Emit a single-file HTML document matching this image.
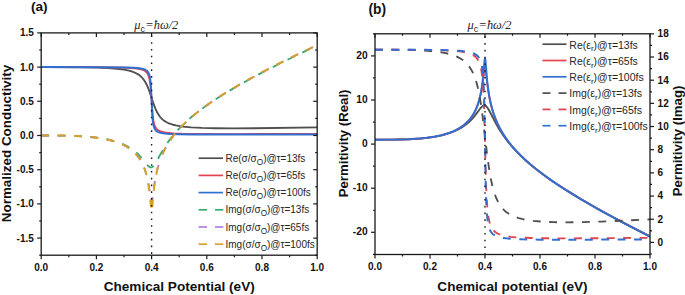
<!DOCTYPE html>
<html><head><meta charset="utf-8"><style>
html,body{margin:0;padding:0;background:#fff;width:685px;height:295px;overflow:hidden}
svg{display:block;font-family:"Liberation Sans",sans-serif}
</style></head><body>
<svg width="685" height="295" viewBox="0 0 685 295">
<clipPath id="ca"><rect x="41.2" y="32.9" width="276.0" height="222.29999999999998"/></clipPath>
<clipPath id="cb"><rect x="375.0" y="33.8" width="275.0" height="220.7"/></clipPath>
<g clip-path="url(#ca)" fill="none" stroke-width="2.0" stroke-linejoin="round">
<path d="M41.20,67.10 L83.60,67.28 L97.25,67.58 L108.14,68.05 L117.07,68.74 L124.16,69.68 L129.93,70.92 L132.43,71.69 L134.66,72.55 L138.07,74.34 L139.52,75.34 L140.96,76.55 L142.27,77.87 L143.45,79.28 L145.55,82.47 L147.18,85.68 L148.78,89.57 L153.50,103.60 L155.37,108.56 L157.52,113.04 L159.79,116.51 L161.26,118.22 L162.73,119.61 L164.33,120.86 L166.20,122.03 L168.20,123.03 L170.47,123.93 L173.01,124.73 L175.81,125.42 L182.62,126.56 L191.17,127.38 L201.98,127.94 L215.73,128.26 L233.09,128.36 L254.98,128.25 L317.20,127.33" stroke="#4f4f4f" stroke-width="1.85"/>
<path d="M41.20,67.10 L96.46,67.19 L111.95,67.35 L123.11,67.60 L131.25,67.99 L137.02,68.55 L141.22,69.37 L142.80,69.88 L144.24,70.53 L145.29,71.19 L146.21,71.96 L147.00,72.85 L147.69,73.90 L148.81,76.52 L149.67,80.08 L150.26,83.96 L150.78,89.03 L152.14,108.58 L152.70,115.11 L153.40,120.43 L154.27,124.29 L154.82,125.89 L155.48,127.26 L156.23,128.41 L157.12,129.39 L158.19,130.23 L159.39,130.91 L160.86,131.51 L162.59,132.01 L167.13,132.79 L173.41,133.32 L182.22,133.68 L194.50,133.91 L236.16,134.07 L317.20,133.86" stroke="#e2434f" stroke-width="1.85"/>
<path d="M41.20,67.10 L99.35,67.17 L126.13,67.50 L133.87,67.82 L139.25,68.29 L143.06,68.98 L144.50,69.44 L145.69,69.99 L146.60,70.58 L147.39,71.29 L148.05,72.12 L148.62,73.10 L149.52,75.64 L150.20,79.17 L150.64,83.15 L151.02,88.49 L152.38,116.28 L152.89,121.70 L153.55,125.57 L154.51,128.45 L155.12,129.55 L155.84,130.45 L156.73,131.22 L157.79,131.86 L160.46,132.80 L164.46,133.48 L170.07,133.93 L178.21,134.23 L190.10,134.43 L231.75,134.57 L317.20,134.43" stroke="#3170d0" stroke-width="2.0"/>
<path d="M41.20,135.50 L56.82,135.54 L67.98,135.71 L77.82,136.05 L86.49,136.59 L94.49,137.35 L101.84,138.37 L108.41,139.62 L114.45,141.15 L119.70,142.89 L124.42,144.87 L128.75,147.16 L132.69,149.74 L136.10,152.47 L139.25,155.50 L141.75,158.29 L146.32,163.95 L147.93,165.75 L149.32,166.89 L150.55,167.39 L151.42,167.37 L152.30,167.01 L153.19,166.31 L154.14,165.22 L156.19,162.07 L159.92,155.24" stroke="#3aa870" stroke-width="1.85" stroke-dasharray="7.9 8.5"/>
<path d="M159.92,155.24 L164.20,147.83 L168.47,141.39 L173.27,135.12 L178.62,129.07 L184.62,123.09 L191.43,117.06 L199.04,110.98 L207.45,104.86 L216.93,98.50 L227.48,91.92 L239.23,85.04 L252.05,77.93 L266.20,70.45 L281.69,62.60 L298.64,54.31 L317.20,45.50" stroke="#3aa870" stroke-width="1.85" stroke-dasharray="7.9 8.5" stroke-dashoffset="2.03"/>
<path d="M41.20,135.50 L60.76,135.58 L74.54,135.92 L86.49,136.62 L96.72,137.69 L101.58,138.42 L106.04,139.25 L110.24,140.21 L114.05,141.27 L117.73,142.49 L121.14,143.85 L124.29,145.33 L127.18,146.94 L129.80,148.66 L132.30,150.59 L134.53,152.60 L136.63,154.84 L138.60,157.31 L140.30,159.83 L141.88,162.59 L143.32,165.59 L144.50,168.49 L145.55,171.51 L146.57,174.96 L147.48,178.69 L149.01,186.74 L150.93,200.15 L151.26,201.67 L151.56,202.19 L151.88,201.67 L152.24,199.92 L154.22,185.03 L155.79,175.89 L157.65,167.90 L159.92,160.56" stroke="#b07ee6" stroke-width="1.85" stroke-dasharray="7.9 8.5"/>
<path d="M159.92,160.56 L161.26,156.99 L162.86,153.23 L164.46,149.89 L166.33,146.40 L168.33,143.05 L170.47,139.80 L172.87,136.47 L175.41,133.25 L181.02,126.94 L187.56,120.56 L195.04,114.13 L203.45,107.65 L212.93,101.00 L223.61,94.10 L235.49,86.96 L248.84,79.41 L263.53,71.54 L279.68,63.27 L297.57,54.45 L317.20,45.10" stroke="#b07ee6" stroke-width="1.85" stroke-dasharray="7.9 8.5" stroke-dashoffset="9.72"/>
<path d="M41.20,135.50 L61.41,135.59 L75.72,135.97 L88.06,136.75 L98.56,137.95 L103.42,138.74 L108.01,139.68 L112.21,140.74 L116.15,141.95 L119.83,143.31 L123.24,144.82 L126.39,146.49 L129.28,148.32 L131.90,150.29 L134.27,152.39 L136.50,154.74 L138.47,157.20 L140.30,159.93 L142.01,162.97 L143.45,166.06 L144.77,169.45 L145.82,172.70 L146.85,176.57 L147.72,180.54 L148.50,184.87 L149.76,194.38 L151.19,209.68 L151.40,211.09 L151.58,211.56 L151.80,210.97 L152.05,209.07 L153.77,190.21 L155.12,180.31 L156.12,174.88 L157.25,169.80 L158.46,165.33 L159.92,160.73" stroke="#d4a228" stroke-width="2.0" stroke-dasharray="7.9 8.5"/>
<path d="M159.92,160.73 L161.26,157.12 L162.86,153.32 L164.46,149.96 L166.33,146.46 L168.33,143.08 L170.47,139.83 L172.74,136.67 L175.28,133.43 L177.95,130.29 L180.89,127.09 L187.43,120.69 L194.90,114.24 L203.31,107.74 L212.79,101.09 L223.48,94.18 L235.36,87.03 L248.71,79.48 L263.39,71.60 L279.68,63.26 L297.57,54.44 L317.20,45.09" stroke="#d4a228" stroke-width="2.0" stroke-dasharray="7.9 8.5" stroke-dashoffset="9.72"/>
</g>
<line x1="151.60" y1="35.40" x2="151.60" y2="255.2" stroke="#1a1a1a" stroke-width="1.4" stroke-dasharray="1.6 5.18"/>
<rect x="41.2" y="32.9" width="276.00" height="222.30" fill="none" stroke="#1a1a1a" stroke-width="1.3"/>
<line x1="39.2" y1="255.2" x2="41.2" y2="255.2" stroke="#1a1a1a" stroke-width="1.2" />
<line x1="315.2" y1="255.2" x2="317.2" y2="255.2" stroke="#1a1a1a" stroke-width="1.2" />
<line x1="37.2" y1="238.1" x2="41.2" y2="238.1" stroke="#1a1a1a" stroke-width="1.2" />
<line x1="313.2" y1="238.1" x2="317.2" y2="238.1" stroke="#1a1a1a" stroke-width="1.2" />
<text x="33.8" y="241.5" font-size="10" font-weight="bold" text-anchor="end" fill="#111" >-1.5</text>
<line x1="39.2" y1="221" x2="41.2" y2="221" stroke="#1a1a1a" stroke-width="1.2" />
<line x1="315.2" y1="221" x2="317.2" y2="221" stroke="#1a1a1a" stroke-width="1.2" />
<line x1="37.2" y1="203.9" x2="41.2" y2="203.9" stroke="#1a1a1a" stroke-width="1.2" />
<line x1="313.2" y1="203.9" x2="317.2" y2="203.9" stroke="#1a1a1a" stroke-width="1.2" />
<text x="33.8" y="207.3" font-size="10" font-weight="bold" text-anchor="end" fill="#111" >-1.0</text>
<line x1="39.2" y1="186.8" x2="41.2" y2="186.8" stroke="#1a1a1a" stroke-width="1.2" />
<line x1="315.2" y1="186.8" x2="317.2" y2="186.8" stroke="#1a1a1a" stroke-width="1.2" />
<line x1="37.2" y1="169.7" x2="41.2" y2="169.7" stroke="#1a1a1a" stroke-width="1.2" />
<line x1="313.2" y1="169.7" x2="317.2" y2="169.7" stroke="#1a1a1a" stroke-width="1.2" />
<text x="33.8" y="173.1" font-size="10" font-weight="bold" text-anchor="end" fill="#111" >-0.5</text>
<line x1="39.2" y1="152.6" x2="41.2" y2="152.6" stroke="#1a1a1a" stroke-width="1.2" />
<line x1="315.2" y1="152.6" x2="317.2" y2="152.6" stroke="#1a1a1a" stroke-width="1.2" />
<line x1="37.2" y1="135.5" x2="41.2" y2="135.5" stroke="#1a1a1a" stroke-width="1.2" />
<line x1="313.2" y1="135.5" x2="317.2" y2="135.5" stroke="#1a1a1a" stroke-width="1.2" />
<text x="33.8" y="138.9" font-size="10" font-weight="bold" text-anchor="end" fill="#111" >0.0</text>
<line x1="39.2" y1="118.4" x2="41.2" y2="118.4" stroke="#1a1a1a" stroke-width="1.2" />
<line x1="315.2" y1="118.4" x2="317.2" y2="118.4" stroke="#1a1a1a" stroke-width="1.2" />
<line x1="37.2" y1="101.3" x2="41.2" y2="101.3" stroke="#1a1a1a" stroke-width="1.2" />
<line x1="313.2" y1="101.3" x2="317.2" y2="101.3" stroke="#1a1a1a" stroke-width="1.2" />
<text x="33.8" y="104.7" font-size="10" font-weight="bold" text-anchor="end" fill="#111" >0.5</text>
<line x1="39.2" y1="84.2" x2="41.2" y2="84.2" stroke="#1a1a1a" stroke-width="1.2" />
<line x1="315.2" y1="84.2" x2="317.2" y2="84.2" stroke="#1a1a1a" stroke-width="1.2" />
<line x1="37.2" y1="67.1" x2="41.2" y2="67.1" stroke="#1a1a1a" stroke-width="1.2" />
<line x1="313.2" y1="67.1" x2="317.2" y2="67.1" stroke="#1a1a1a" stroke-width="1.2" />
<text x="33.8" y="70.5" font-size="10" font-weight="bold" text-anchor="end" fill="#111" >1.0</text>
<line x1="39.2" y1="50" x2="41.2" y2="50" stroke="#1a1a1a" stroke-width="1.2" />
<line x1="315.2" y1="50" x2="317.2" y2="50" stroke="#1a1a1a" stroke-width="1.2" />
<line x1="37.2" y1="32.9" x2="41.2" y2="32.9" stroke="#1a1a1a" stroke-width="1.2" />
<line x1="313.2" y1="32.9" x2="317.2" y2="32.9" stroke="#1a1a1a" stroke-width="1.2" />
<text x="33.8" y="36.3" font-size="10" font-weight="bold" text-anchor="end" fill="#111" >1.5</text>
<line x1="41.2" y1="255.2" x2="41.2" y2="259.2" stroke="#1a1a1a" stroke-width="1.2" />
<line x1="41.2" y1="32.9" x2="41.2" y2="36.9" stroke="#1a1a1a" stroke-width="1.2" />
<text x="41.2" y="270.6" font-size="10" font-weight="bold" text-anchor="middle" fill="#111" >0.0</text>
<line x1="68.8" y1="255.2" x2="68.8" y2="257.2" stroke="#1a1a1a" stroke-width="1.2" />
<line x1="68.8" y1="32.9" x2="68.8" y2="34.9" stroke="#1a1a1a" stroke-width="1.2" />
<line x1="96.4" y1="255.2" x2="96.4" y2="259.2" stroke="#1a1a1a" stroke-width="1.2" />
<line x1="96.4" y1="32.9" x2="96.4" y2="36.9" stroke="#1a1a1a" stroke-width="1.2" />
<text x="96.4" y="270.6" font-size="10" font-weight="bold" text-anchor="middle" fill="#111" >0.2</text>
<line x1="124" y1="255.2" x2="124" y2="257.2" stroke="#1a1a1a" stroke-width="1.2" />
<line x1="124" y1="32.9" x2="124" y2="34.9" stroke="#1a1a1a" stroke-width="1.2" />
<line x1="151.6" y1="255.2" x2="151.6" y2="259.2" stroke="#1a1a1a" stroke-width="1.2" />
<line x1="151.6" y1="32.9" x2="151.6" y2="36.9" stroke="#1a1a1a" stroke-width="1.2" />
<text x="151.6" y="270.6" font-size="10" font-weight="bold" text-anchor="middle" fill="#111" >0.4</text>
<line x1="179.2" y1="255.2" x2="179.2" y2="257.2" stroke="#1a1a1a" stroke-width="1.2" />
<line x1="179.2" y1="32.9" x2="179.2" y2="34.9" stroke="#1a1a1a" stroke-width="1.2" />
<line x1="206.8" y1="255.2" x2="206.8" y2="259.2" stroke="#1a1a1a" stroke-width="1.2" />
<line x1="206.8" y1="32.9" x2="206.8" y2="36.9" stroke="#1a1a1a" stroke-width="1.2" />
<text x="206.8" y="270.6" font-size="10" font-weight="bold" text-anchor="middle" fill="#111" >0.6</text>
<line x1="234.4" y1="255.2" x2="234.4" y2="257.2" stroke="#1a1a1a" stroke-width="1.2" />
<line x1="234.4" y1="32.9" x2="234.4" y2="34.9" stroke="#1a1a1a" stroke-width="1.2" />
<line x1="262" y1="255.2" x2="262" y2="259.2" stroke="#1a1a1a" stroke-width="1.2" />
<line x1="262" y1="32.9" x2="262" y2="36.9" stroke="#1a1a1a" stroke-width="1.2" />
<text x="262" y="270.6" font-size="10" font-weight="bold" text-anchor="middle" fill="#111" >0.8</text>
<line x1="289.6" y1="255.2" x2="289.6" y2="257.2" stroke="#1a1a1a" stroke-width="1.2" />
<line x1="289.6" y1="32.9" x2="289.6" y2="34.9" stroke="#1a1a1a" stroke-width="1.2" />
<line x1="317.2" y1="255.2" x2="317.2" y2="259.2" stroke="#1a1a1a" stroke-width="1.2" />
<line x1="317.2" y1="32.9" x2="317.2" y2="36.9" stroke="#1a1a1a" stroke-width="1.2" />
<text x="317.2" y="270.6" font-size="10" font-weight="bold" text-anchor="middle" fill="#111" >1.0</text>
<text x="179.2" y="291.3" font-size="13.6" font-weight="bold" text-anchor="middle" fill="#111" >Chemical Potential (eV)</text>
<text transform="translate(10.6,143.5) rotate(-90)" font-size="13.45" font-weight="bold" text-anchor="middle" fill="#111">Normalized Conductivity</text>
<text x="31" y="11" font-size="13.6" font-weight="bold" text-anchor="start" fill="#111" >(a)</text>
<text x="134.3" y="28.9" font-family="Liberation Serif" font-size="12.4" font-style="italic" fill="#262626">&#956;<tspan font-family="Liberation Sans" font-style="normal" font-size="8.8" dy="2.6">c</tspan><tspan dy="-2.6" dx="0.4">=&#295;&#969;/2</tspan></text>
<line x1="198.6" y1="158.2" x2="223" y2="158.2" stroke="#4f4f4f" stroke-width="1.7" />
<text x="225.5" y="161.80" font-size="10" fill="#262626">Re(&#963;/&#963;<tspan font-size="8.2" dy="3">O</tspan><tspan dy="-3">)@&#964;=13fs</tspan></text>
<line x1="198.6" y1="175.4" x2="223" y2="175.4" stroke="#e2434f" stroke-width="1.7" />
<text x="225.5" y="179.00" font-size="10" fill="#262626">Re(&#963;/&#963;<tspan font-size="8.2" dy="3">O</tspan><tspan dy="-3">)@&#964;=65fs</tspan></text>
<line x1="198.6" y1="192.6" x2="223" y2="192.6" stroke="#3170d0" stroke-width="1.7" />
<text x="225.5" y="196.20" font-size="10" fill="#262626">Re(&#963;/&#963;<tspan font-size="8.2" dy="3">O</tspan><tspan dy="-3">)@&#964;=100fs</tspan></text>
<line x1="198.6" y1="209.8" x2="207" y2="209.8" stroke="#3aa870" stroke-width="1.7" />
<line x1="215" y1="209.8" x2="223.3" y2="209.8" stroke="#3aa870" stroke-width="1.7" />
<text x="225.5" y="213.40" font-size="10" fill="#262626">Img(&#963;/&#963;<tspan font-size="8.2" dy="3">O</tspan><tspan dy="-3">)@&#964;=13fs</tspan></text>
<line x1="198.6" y1="227" x2="207" y2="227" stroke="#b07ee6" stroke-width="1.7" />
<line x1="215" y1="227" x2="223.3" y2="227" stroke="#b07ee6" stroke-width="1.7" />
<text x="225.5" y="230.60" font-size="10" fill="#262626">Img(&#963;/&#963;<tspan font-size="8.2" dy="3">O</tspan><tspan dy="-3">)@&#964;=65fs</tspan></text>
<line x1="198.6" y1="244.2" x2="207" y2="244.2" stroke="#d4a228" stroke-width="1.7" />
<line x1="215" y1="244.2" x2="223.3" y2="244.2" stroke="#d4a228" stroke-width="1.7" />
<text x="225.5" y="247.80" font-size="10" fill="#262626">Img(&#963;/&#963;<tspan font-size="8.2" dy="3">O</tspan><tspan dy="-3">)@&#964;=100fs</tspan></text>
<g clip-path="url(#cb)" fill="none" stroke-width="2.0" stroke-linejoin="round">
<path d="M375.00,139.69 L390.43,139.65 L401.55,139.47 L411.23,139.11 L419.86,138.55 L427.84,137.74 L435.16,136.66 L441.70,135.34 L447.72,133.71 L452.69,131.98 L457.27,129.97 L461.45,127.68 L465.37,125.03 L469.04,121.98 L472.44,118.53 L474.92,115.59 L479.90,108.97 L481.68,106.91 L482.61,106.11 L483.47,105.64 L484.28,105.46 L485.07,105.59 L485.80,105.97 L486.54,106.61 L488.16,108.76 L490.00,112.02 L495.56,122.87 L498.88,128.74 L503.27,135.54 L508.19,142.13 L513.78,148.66 L520.17,155.23 L527.35,161.82 L535.33,168.44 L544.91,175.68 L555.68,183.17 L567.66,190.91 L580.96,199.00 L595.72,207.50 L612.09,216.49 L630.18,226.06 L650.00,236.18" stroke="#4f4f4f" stroke-width="1.85"/>
<path d="M375.00,139.69 L394.49,139.60 L408.22,139.24 L420.12,138.49 L430.32,137.34 L435.16,136.56 L439.61,135.67 L443.79,134.64 L447.59,133.50 L451.25,132.19 L454.65,130.74 L457.79,129.15 L460.67,127.42 L463.28,125.57 L465.77,123.51 L467.99,121.35 L470.08,118.96 L472.05,116.31 L473.75,113.60 L475.31,110.65 L476.75,107.43 L477.93,104.32 L478.98,101.08 L480.86,93.54 L482.41,84.82 L484.35,70.31 L484.69,68.65 L484.85,68.27 L485.01,68.19 L485.30,68.80 L485.62,70.51 L487.82,88.08 L488.73,93.90 L489.74,99.27 L490.90,104.41 L492.23,109.38 L493.69,114.02 L495.42,118.73 L497.42,123.40 L499.68,128.00 L502.21,132.50 L504.87,136.71 L507.93,141.04 L511.25,145.29 L514.84,149.46 L518.83,153.71 L523.36,158.14 L528.15,162.48 L533.47,166.99 L539.19,171.53 L545.44,176.20 L552.09,180.91 L559.28,185.76 L566.86,190.65 L575.11,195.76 L583.89,201.00 L603.17,211.98 L625.12,223.80 L650.00,236.61" stroke="#e2434f" stroke-width="1.85"/>
<path d="M375.00,139.69 L395.14,139.59 L409.40,139.18 L421.69,138.35 L427.05,137.78 L432.15,137.07 L436.99,136.21 L441.57,135.21 L445.76,134.07 L449.68,132.78 L453.34,131.32 L456.74,129.69 L459.88,127.90 L462.76,125.95 L465.37,123.83 L467.73,121.58 L469.95,119.07 L471.91,116.43 L473.75,113.50 L475.45,110.24 L476.88,106.92 L478.19,103.29 L479.24,99.80 L480.26,95.71 L481.13,91.46 L481.90,86.82 L483.16,76.61 L484.60,60.10 L484.81,58.59 L485.00,58.14 L485.21,58.84 L485.45,60.87 L487.18,81.19 L488.61,92.28 L489.61,98.08 L490.77,103.49 L492.10,108.67 L493.69,113.86 L495.56,118.95 L497.68,123.90 L499.94,128.45 L502.61,133.13 L505.53,137.66 L508.72,142.08 L512.18,146.39 L516.04,150.76 L520.43,155.31 L525.35,159.99 L530.54,164.55 L536.26,169.24 L542.51,174.05 L549.17,178.87 L556.35,183.81 L564.20,188.96 L572.58,194.22 L581.49,199.60 L601.44,211.03 L624.19,223.32 L650.00,236.62" stroke="#3170d0" stroke-width="2.0"/>
<path d="M375.00,49.72 L400.11,49.82 L416.98,50.22 L424.18,50.58 L430.59,51.04 L436.21,51.62 L441.31,52.33 L446.02,53.21 L450.20,54.24 L454.00,55.46 L457.40,56.87 L460.40,58.45 L463.15,60.29 L465.64,62.39 L467.86,64.76 L469.69,67.16 L471.26,69.65 L472.70,72.39 L474.14,75.67 L475.45,79.26 L476.62,83.09 L477.80,87.63 L478.85,92.37 L480.51,101.51 L482.14,112.66 L486.92,152.77 L488.81,166.88 L490.90,179.14 L492.10,184.71 L493.29,189.39" stroke="#4f4f4f" stroke-width="1.85" stroke-dasharray="7.9 8.5"/>
<path d="M493.29,189.39 L494.36,192.92 L495.56,196.31 L496.75,199.20 L498.08,201.92 L499.55,204.45 L501.01,206.58 L502.61,208.54 L504.33,210.33 L506.20,211.95 L508.33,213.49 L510.59,214.84 L513.11,216.08 L515.78,217.16 L518.70,218.12 L521.89,218.97 L525.35,219.71 L533.20,220.89 L542.65,221.71 L553.82,222.17 L567.12,222.30 L582.82,222.09 L601.58,221.55 L623.79,220.65 L650.00,219.37" stroke="#4f4f4f" stroke-width="1.85" stroke-dasharray="7.9 8.5" stroke-dashoffset="10.77"/>
<path d="M375.00,49.72 L408.74,49.77 L430.06,49.98 L445.49,50.42 L456.61,51.13 L461.06,51.64 L464.72,52.24 L467.86,52.96 L470.48,53.82 L472.70,54.85 L474.66,56.12 L476.23,57.55 L477.67,59.39 L478.72,61.23 L479.64,63.43 L480.43,65.98 L481.11,68.92 L482.23,76.37 L483.09,86.46 L483.67,97.48 L484.19,111.87 L486.05,183.60 L486.67,197.85 L487.42,208.41 L488.37,216.36 L488.94,219.57 L489.59,222.33 L490.32,224.71 L491.17,226.76 L492.10,228.49 L493.29,230.16" stroke="#e2434f" stroke-width="1.85" stroke-dasharray="7.9 8.5"/>
<path d="M493.29,230.16 L495.02,231.87 L497.15,233.31 L499.68,234.48 L502.61,235.40 L506.20,236.17 L510.59,236.80 L515.91,237.31 L522.29,237.70 L539.19,238.20 L563.67,238.37 L599.18,238.23 L650.00,237.78" stroke="#e2434f" stroke-width="1.85" stroke-dasharray="7.9 8.5" stroke-dashoffset="15.99"/>
<path d="M375.00,49.72 L410.84,49.76 L432.94,49.93 L448.63,50.27 L459.62,50.85 L463.81,51.25 L467.34,51.74 L470.21,52.33 L472.70,53.07 L474.79,53.97 L476.49,55.03 L477.93,56.33 L479.11,57.86 L480.02,59.53 L480.80,61.52 L481.46,63.86 L482.03,66.63 L482.93,73.78 L483.60,83.73 L484.04,94.93 L484.42,109.97 L485.77,188.03 L486.27,203.17 L486.91,213.97 L487.81,222.01 L488.38,225.08 L489.06,227.65 L489.84,229.76 L490.77,231.54 L491.96,233.16 L493.29,234.41" stroke="#3170d0" stroke-width="2.0" stroke-dasharray="7.9 8.5"/>
<path d="M493.29,234.41 L495.02,235.53 L497.15,236.48 L499.68,237.24 L502.61,237.85 L506.20,238.35 L510.59,238.76 L522.16,239.34 L539.06,239.67 L563.53,239.78 L650.00,239.40" stroke="#3170d0" stroke-width="2.0" stroke-dasharray="7.9 8.5" stroke-dashoffset="6.06"/>
</g>
<line x1="485.00" y1="36.30" x2="485.00" y2="254.5" stroke="#1a1a1a" stroke-width="1.4" stroke-dasharray="1.6 5.18"/>
<rect x="375.0" y="33.8" width="275.00" height="220.70" fill="none" stroke="#1a1a1a" stroke-width="1.3"/>
<line x1="373" y1="254.35" x2="375" y2="254.35" stroke="#1a1a1a" stroke-width="1.2" />
<line x1="371" y1="232.3" x2="375" y2="232.3" stroke="#1a1a1a" stroke-width="1.2" />
<text x="367.6" y="235.4" font-size="10.2" font-weight="bold" text-anchor="end" fill="#111" >-20</text>
<line x1="373" y1="210.25" x2="375" y2="210.25" stroke="#1a1a1a" stroke-width="1.2" />
<line x1="371" y1="188.2" x2="375" y2="188.2" stroke="#1a1a1a" stroke-width="1.2" />
<text x="367.6" y="191.3" font-size="10.2" font-weight="bold" text-anchor="end" fill="#111" >-10</text>
<line x1="373" y1="166.15" x2="375" y2="166.15" stroke="#1a1a1a" stroke-width="1.2" />
<line x1="371" y1="144.1" x2="375" y2="144.1" stroke="#1a1a1a" stroke-width="1.2" />
<text x="367.6" y="147.2" font-size="10.2" font-weight="bold" text-anchor="end" fill="#111" >0</text>
<line x1="373" y1="122.05" x2="375" y2="122.05" stroke="#1a1a1a" stroke-width="1.2" />
<line x1="371" y1="100" x2="375" y2="100" stroke="#1a1a1a" stroke-width="1.2" />
<text x="367.6" y="103.1" font-size="10.2" font-weight="bold" text-anchor="end" fill="#111" >10</text>
<line x1="373" y1="77.95" x2="375" y2="77.95" stroke="#1a1a1a" stroke-width="1.2" />
<line x1="371" y1="55.9" x2="375" y2="55.9" stroke="#1a1a1a" stroke-width="1.2" />
<text x="367.6" y="59" font-size="10.2" font-weight="bold" text-anchor="end" fill="#111" >20</text>
<line x1="373" y1="33.85" x2="375" y2="33.85" stroke="#1a1a1a" stroke-width="1.2" />
<line x1="650" y1="253.99" x2="652" y2="253.99" stroke="#1a1a1a" stroke-width="1.2" />
<line x1="650" y1="242.4" x2="654" y2="242.4" stroke="#1a1a1a" stroke-width="1.2" />
<text x="657.6" y="245.7" font-size="10" font-weight="bold" text-anchor="start" fill="#111" >0</text>
<line x1="650" y1="230.81" x2="652" y2="230.81" stroke="#1a1a1a" stroke-width="1.2" />
<line x1="650" y1="219.23" x2="654" y2="219.23" stroke="#1a1a1a" stroke-width="1.2" />
<text x="657.6" y="222.53" font-size="10" font-weight="bold" text-anchor="start" fill="#111" >2</text>
<line x1="650" y1="207.64" x2="652" y2="207.64" stroke="#1a1a1a" stroke-width="1.2" />
<line x1="650" y1="196.06" x2="654" y2="196.06" stroke="#1a1a1a" stroke-width="1.2" />
<text x="657.6" y="199.36" font-size="10" font-weight="bold" text-anchor="start" fill="#111" >4</text>
<line x1="650" y1="184.47" x2="652" y2="184.47" stroke="#1a1a1a" stroke-width="1.2" />
<line x1="650" y1="172.88" x2="654" y2="172.88" stroke="#1a1a1a" stroke-width="1.2" />
<text x="657.6" y="176.18" font-size="10" font-weight="bold" text-anchor="start" fill="#111" >6</text>
<line x1="650" y1="161.3" x2="652" y2="161.3" stroke="#1a1a1a" stroke-width="1.2" />
<line x1="650" y1="149.71" x2="654" y2="149.71" stroke="#1a1a1a" stroke-width="1.2" />
<text x="657.6" y="153.01" font-size="10" font-weight="bold" text-anchor="start" fill="#111" >8</text>
<line x1="650" y1="138.13" x2="652" y2="138.13" stroke="#1a1a1a" stroke-width="1.2" />
<line x1="650" y1="126.54" x2="654" y2="126.54" stroke="#1a1a1a" stroke-width="1.2" />
<text x="657.6" y="129.84" font-size="10" font-weight="bold" text-anchor="start" fill="#111" >10</text>
<line x1="650" y1="114.95" x2="652" y2="114.95" stroke="#1a1a1a" stroke-width="1.2" />
<line x1="650" y1="103.37" x2="654" y2="103.37" stroke="#1a1a1a" stroke-width="1.2" />
<text x="657.6" y="106.67" font-size="10" font-weight="bold" text-anchor="start" fill="#111" >12</text>
<line x1="650" y1="91.78" x2="652" y2="91.78" stroke="#1a1a1a" stroke-width="1.2" />
<line x1="650" y1="80.2" x2="654" y2="80.2" stroke="#1a1a1a" stroke-width="1.2" />
<text x="657.6" y="83.5" font-size="10" font-weight="bold" text-anchor="start" fill="#111" >14</text>
<line x1="650" y1="68.61" x2="652" y2="68.61" stroke="#1a1a1a" stroke-width="1.2" />
<line x1="650" y1="57.02" x2="654" y2="57.02" stroke="#1a1a1a" stroke-width="1.2" />
<text x="657.6" y="60.32" font-size="10" font-weight="bold" text-anchor="start" fill="#111" >16</text>
<line x1="650" y1="45.44" x2="652" y2="45.44" stroke="#1a1a1a" stroke-width="1.2" />
<line x1="650" y1="33.85" x2="654" y2="33.85" stroke="#1a1a1a" stroke-width="1.2" />
<text x="657.6" y="37.15" font-size="10" font-weight="bold" text-anchor="start" fill="#111" >18</text>
<line x1="375" y1="254.5" x2="375" y2="258.5" stroke="#1a1a1a" stroke-width="1.2" />
<line x1="375" y1="33.8" x2="375" y2="37.8" stroke="#1a1a1a" stroke-width="1.2" />
<text x="375" y="270.2" font-size="10" font-weight="bold" text-anchor="middle" fill="#111" >0.0</text>
<line x1="402.5" y1="254.5" x2="402.5" y2="256.5" stroke="#1a1a1a" stroke-width="1.2" />
<line x1="402.5" y1="33.8" x2="402.5" y2="35.8" stroke="#1a1a1a" stroke-width="1.2" />
<line x1="430" y1="254.5" x2="430" y2="258.5" stroke="#1a1a1a" stroke-width="1.2" />
<line x1="430" y1="33.8" x2="430" y2="37.8" stroke="#1a1a1a" stroke-width="1.2" />
<text x="430" y="270.2" font-size="10" font-weight="bold" text-anchor="middle" fill="#111" >0.2</text>
<line x1="457.5" y1="254.5" x2="457.5" y2="256.5" stroke="#1a1a1a" stroke-width="1.2" />
<line x1="457.5" y1="33.8" x2="457.5" y2="35.8" stroke="#1a1a1a" stroke-width="1.2" />
<line x1="485" y1="254.5" x2="485" y2="258.5" stroke="#1a1a1a" stroke-width="1.2" />
<line x1="485" y1="33.8" x2="485" y2="37.8" stroke="#1a1a1a" stroke-width="1.2" />
<text x="485" y="270.2" font-size="10" font-weight="bold" text-anchor="middle" fill="#111" >0.4</text>
<line x1="512.5" y1="254.5" x2="512.5" y2="256.5" stroke="#1a1a1a" stroke-width="1.2" />
<line x1="512.5" y1="33.8" x2="512.5" y2="35.8" stroke="#1a1a1a" stroke-width="1.2" />
<line x1="540" y1="254.5" x2="540" y2="258.5" stroke="#1a1a1a" stroke-width="1.2" />
<line x1="540" y1="33.8" x2="540" y2="37.8" stroke="#1a1a1a" stroke-width="1.2" />
<text x="540" y="270.2" font-size="10" font-weight="bold" text-anchor="middle" fill="#111" >0.6</text>
<line x1="567.5" y1="254.5" x2="567.5" y2="256.5" stroke="#1a1a1a" stroke-width="1.2" />
<line x1="567.5" y1="33.8" x2="567.5" y2="35.8" stroke="#1a1a1a" stroke-width="1.2" />
<line x1="595" y1="254.5" x2="595" y2="258.5" stroke="#1a1a1a" stroke-width="1.2" />
<line x1="595" y1="33.8" x2="595" y2="37.8" stroke="#1a1a1a" stroke-width="1.2" />
<text x="595" y="270.2" font-size="10" font-weight="bold" text-anchor="middle" fill="#111" >0.8</text>
<line x1="622.5" y1="254.5" x2="622.5" y2="256.5" stroke="#1a1a1a" stroke-width="1.2" />
<line x1="622.5" y1="33.8" x2="622.5" y2="35.8" stroke="#1a1a1a" stroke-width="1.2" />
<line x1="650" y1="254.5" x2="650" y2="258.5" stroke="#1a1a1a" stroke-width="1.2" />
<line x1="650" y1="33.8" x2="650" y2="37.8" stroke="#1a1a1a" stroke-width="1.2" />
<text x="650" y="270.2" font-size="10" font-weight="bold" text-anchor="middle" fill="#111" >1.0</text>
<text x="512.5" y="291.3" font-size="13.6" font-weight="bold" text-anchor="middle" fill="#111" >Chemical potential (eV)</text>
<text transform="translate(347.8,143.4) rotate(-90)" font-size="13.2" font-weight="bold" text-anchor="middle" fill="#111">Permitivity (Real)</text>
<text transform="translate(682.2,141.0) rotate(-90)" font-size="13.2" font-weight="bold" text-anchor="middle" fill="#111">Permitivity (Imag)</text>
<text x="368.5" y="13.8" font-size="13.8" font-weight="bold" text-anchor="start" fill="#111" >(b)</text>
<text x="467.5" y="28.9" font-family="Liberation Serif" font-size="12.4" font-style="italic" fill="#262626">&#956;<tspan font-family="Liberation Sans" font-style="normal" font-size="8.8" dy="2.6">c</tspan><tspan dy="-2.6" dx="0.4">=&#295;&#969;/2</tspan></text>
<line x1="542.5" y1="44.2" x2="566.5" y2="44.2" stroke="#4f4f4f" stroke-width="1.7" />
<text x="569.3" y="48.50" font-size="10.5" fill="#262626">Re(&#949;<tspan font-size="8" dy="2.8">r</tspan><tspan dy="-2.8">)@&#964;=13fs</tspan></text>
<line x1="542.5" y1="60.5" x2="566.5" y2="60.5" stroke="#e2434f" stroke-width="1.7" />
<text x="569.3" y="64.80" font-size="10.5" fill="#262626">Re(&#949;<tspan font-size="8" dy="2.8">r</tspan><tspan dy="-2.8">)@&#964;=65fs</tspan></text>
<line x1="542.5" y1="76.8" x2="566.5" y2="76.8" stroke="#3170d0" stroke-width="1.7" />
<text x="569.3" y="81.10" font-size="10.5" fill="#262626">Re(&#949;<tspan font-size="8" dy="2.8">r</tspan><tspan dy="-2.8">)@&#964;=100fs</tspan></text>
<line x1="542.5" y1="93.1" x2="550.5" y2="93.1" stroke="#4f4f4f" stroke-width="1.7" />
<line x1="558.5" y1="93.1" x2="566.5" y2="93.1" stroke="#4f4f4f" stroke-width="1.7" />
<text x="569.3" y="97.40" font-size="10.5" fill="#262626">Img(&#949;<tspan font-size="8" dy="2.8">r</tspan><tspan dy="-2.8">)@&#964;=13fs</tspan></text>
<line x1="542.5" y1="109.4" x2="550.5" y2="109.4" stroke="#e2434f" stroke-width="1.7" />
<line x1="558.5" y1="109.4" x2="566.5" y2="109.4" stroke="#e2434f" stroke-width="1.7" />
<text x="569.3" y="113.70" font-size="10.5" fill="#262626">Img(&#949;<tspan font-size="8" dy="2.8">r</tspan><tspan dy="-2.8">)@&#964;=65fs</tspan></text>
<line x1="542.5" y1="125.7" x2="550.5" y2="125.7" stroke="#3170d0" stroke-width="1.7" />
<line x1="558.5" y1="125.7" x2="566.5" y2="125.7" stroke="#3170d0" stroke-width="1.7" />
<text x="569.3" y="130.00" font-size="10.5" fill="#262626">Img(&#949;<tspan font-size="8" dy="2.8">r</tspan><tspan dy="-2.8">)@&#964;=100fs</tspan></text>
</svg>
</body></html>
